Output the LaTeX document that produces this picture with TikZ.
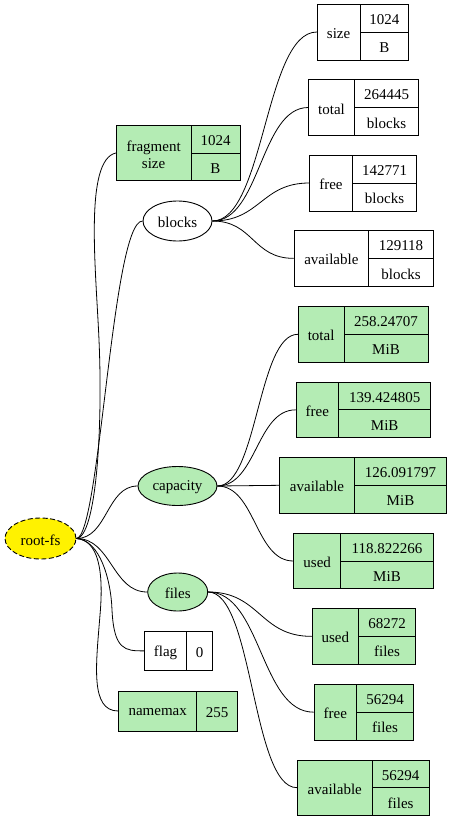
\documentclass[tikz,border=0pt]{standalone}
\usepackage{fontspec}
\setmainfont{Liberation Serif}
\usetikzlibrary{shapes.geometric}
\definecolor{pgreen}{RGB}{180,236,180}
\tikzset{
  rec/.style={draw=black, line width=0.9pt, rectangle, inner sep=0pt},
  cell/.style={draw=black, line width=0.9pt},
  txt/.style={inner sep=0pt, font=\fontsize{15}{17}\selectfont, align=center, yshift=-1.5pt},
  ell/.style={draw=black, line width=0.9pt, ellipse, inner sep=0pt},
  edge/.style={draw=black, line width=0.8pt}
}
\newcommand{\RecSplit}[2]{\def\rv{#1}\def\ru{#2}}
% #1 name #2 fill #3 x1 #4 y1 #5 x2 #6 y2 #7 xdiv #8 label #9 {val}{unit}
\newcommand{\RecT}[9]{%
  \RecSplit#9%
  \node[rec, fill=#2, minimum width={#5-#3}, minimum height={#6-#4}] (#1) at ({(#3+#5)/2},{(#4+#6)/2}) {};
  \draw[cell] (#7,#4) -- (#7,#6);
  \draw[cell] (#7,{(#4+#6)/2}) -- (#5,{(#4+#6)/2});
  \node[txt] (#1-l) at ({(#3+#7)/2},{(#4+#6)/2}) {#8};
  \node[txt] (#1-v) at ({(#7+#5)/2},{(3*#4+#6)/4}) {\rv};
  \node[txt] (#1-u) at ({(#7+#5)/2},{(#4+3*#6)/4}) {\ru};
}
% #1 name #2 fill #3 x1 #4 y1 #5 x2 #6 y2 #7 xdiv #8 label #9 val
\newcommand{\RecP}[9]{%
  \node[rec, fill=#2, minimum width={#5-#3}, minimum height={#6-#4}] (#1) at ({(#3+#5)/2},{(#4+#6)/2}) {};
  \draw[cell] (#7,#4) -- (#7,#6);
  \node[txt] (#1-l) at ({(#3+#7)/2},{(#4+#6)/2}) {#8};
  \node[txt] (#1-v) at ({(#7+#5)/2},{(#4+#6)/2}) {#9};
}
\newcommand{\Edge}[3]{\draw[edge] (#1.east) .. controls +(#3,0) and +(-#3,0) .. (#2.west);}
\begin{document}
\begin{tikzpicture}[x=1pt,y=-1pt]
\useasboundingbox (0,0) rectangle (451,820);
\fill[white] (0,0) rectangle (451,820);
% ellipses
\node[ell, dash pattern=on 5pt off 2.5pt, fill=yellow, minimum width=71pt, minimum height=41pt] (root) at (40.5,538.5) {};
\node[txt] (root-t) at (root) {root-fs};
\node[ell, fill=white, minimum width=69pt, minimum height=40pt] (blocks) at (177.5,221) {};
\node[txt] (blocks-t) at (blocks) {blocks};
\node[ell, fill=pgreen, minimum width=79pt, minimum height=39pt] (capacity) at (177.5,486) {};
\node[txt] (capacity-t) at (capacity) {capacity};
\node[ell, fill=pgreen, minimum width=60pt, minimum height=38pt] (files) at (177.7,592) {};
\node[txt] (files-t) at (files) {files};
% records
\RecT{frag}{pgreen}{116.3}{125.3}{240}{180.7}{191}{fragment\\size}{{1024}{B}}
\RecT{bsize}{white}{317.3}{4}{408.7}{60}{360}{size}{{1024}{B}}
\RecT{btotal}{white}{308.7}{79.7}{418.7}{135.3}{354.3}{total}{{264445}{blocks}}
\RecT{bfree}{white}{309.7}{155}{416.7}{211}{352.3}{free}{{142771}{blocks}}
\RecT{bavail}{white}{294}{230}{433.3}{286.7}{368.7}{available}{{129118}{blocks}}
\RecT{ctotal}{pgreen}{298.3}{306.3}{428}{362.3}{344}{total}{{258.24707}{MiB}}
\RecT{cfree}{pgreen}{296}{382}{430.7}{437.7}{338.7}{free}{{139.424805}{MiB}}
\RecT{cavail}{pgreen}{279.7}{457.3}{446.7}{513.3}{354.3}{available}{{126.091797}{MiB}}
\RecT{cused}{pgreen}{293.7}{533.3}{433.3}{588.7}{340.7}{used}{{118.822266}{MiB}}
\RecT{fused}{pgreen}{312}{608.7}{415.3}{664}{358.7}{used}{{68272}{files}}
\RecT{ffree}{pgreen}{314}{684.3}{413.3}{740}{356.7}{free}{{56294}{files}}
\RecT{favail}{pgreen}{297.3}{760}{429}{815.3}{372.3}{available}{{56294}{files}}
\RecP{flag}{white}{144.3}{631}{212.3}{670.7}{186.7}{flag}{0}
\RecP{namemax}{pgreen}{118.7}{691}{237.7}{731}{196.7}{namemax}{255}
% edges
\draw[edge] (root.east) .. controls (96,537) and (103,430) .. (99,340)
  .. controls (96,270) and (84,160) .. (frag.west);
\draw[edge] (root.east) .. controls (100,537) and (112,221) .. (blocks.west);
\Edge{root}{capacity}{31}
\Edge{root}{files}{35}
\draw[edge] (root.east) .. controls (100,540) and (111,580) .. (112,610)
  .. controls (114,650) and (125,651) .. (flag.west);
\draw[edge] (root.east) .. controls (98,540) and (104,570) .. (100,615)
  .. controls (96,665) and (90,711) .. (namemax.west);
\Edge{blocks}{bsize}{52}
\Edge{blocks}{btotal}{48}
\Edge{blocks}{bfree}{48}
\Edge{blocks}{bavail}{41}
\Edge{capacity}{ctotal}{40}
\Edge{capacity}{cfree}{39}
\Edge{capacity}{cavail}{31}
\Edge{capacity}{cused}{38}
\Edge{files}{fused}{52}
\Edge{files}{ffree}{53}
\Edge{files}{favail}{45}
\end{tikzpicture}
\end{document}
